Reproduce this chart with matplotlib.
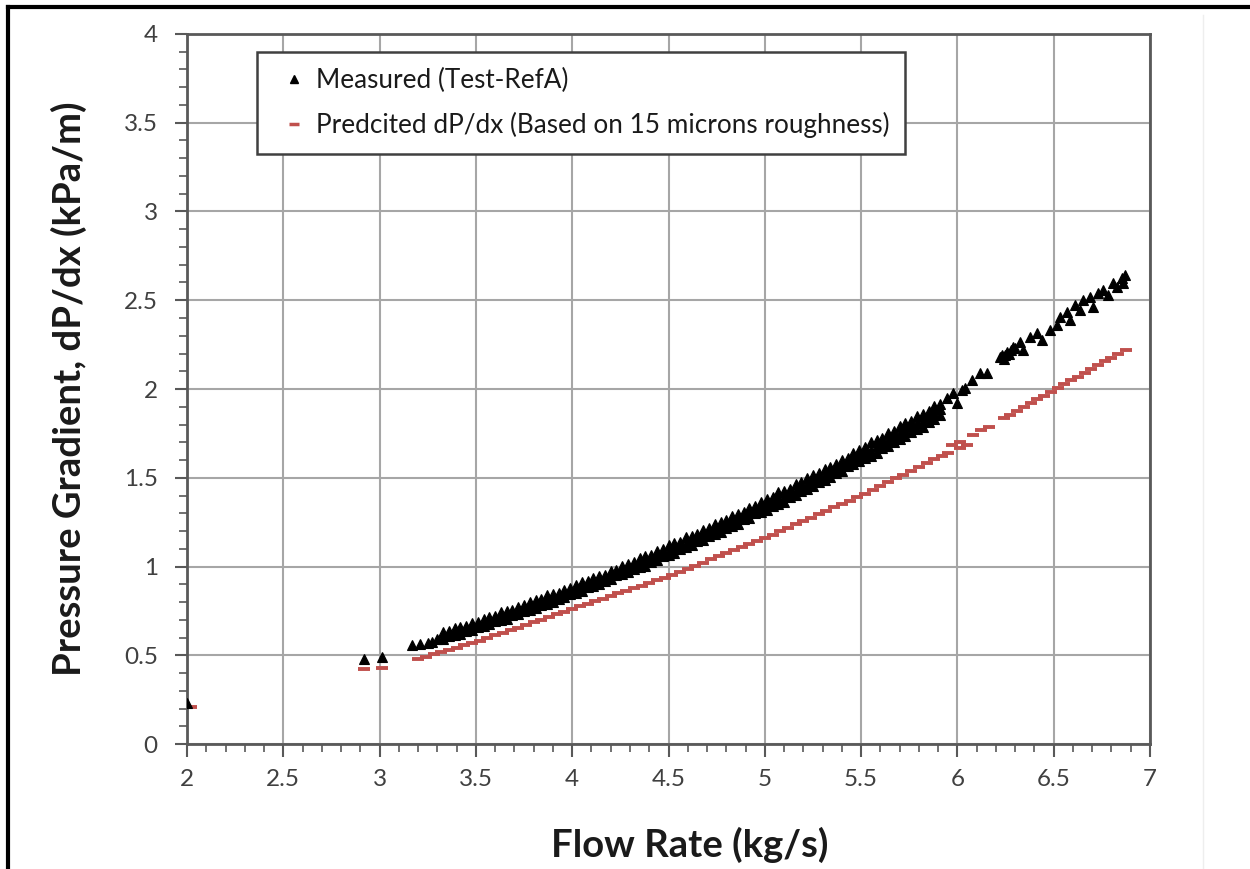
import matplotlib
matplotlib.use("Agg")
import matplotlib.pyplot as plt
from matplotlib.lines import Line2D
from matplotlib.ticker import MultipleLocator

plt.rcParams['font.family'] = ['Lato', 'DejaVu Sans']

# ---------------- data ----------------
# Measured (Test-RefA): isolated low-flow points
meas_low_x = [2.00, 2.92, 3.01, 3.17, 3.21, 3.25, 3.27, 3.30]
meas_low_y = [0.23, 0.48, 0.49, 0.56, 0.565, 0.57, 0.575, 0.59]

# Measured: dense band (upper edge, centre and lower edge of the scatter)
meas_band_x = [3.33, 3.36, 3.39, 3.42, 3.45, 3.48, 3.51, 3.54, 3.57, 3.60,
               3.63, 3.66, 3.69, 3.72, 3.75, 3.78, 3.81, 3.84, 3.87, 3.90,
               3.93, 3.96, 3.99, 4.02, 4.05, 4.08, 4.11, 4.14, 4.17, 4.20,
               4.23, 4.26, 4.29, 4.32, 4.35, 4.38, 4.41, 4.44, 4.47, 4.50,
               4.53, 4.56, 4.59, 4.62, 4.65, 4.68, 4.71, 4.74, 4.77, 4.80,
               4.83, 4.86, 4.89, 4.92, 4.95, 4.98, 5.01, 5.04, 5.07, 5.10,
               5.13, 5.16, 5.19, 5.22, 5.25, 5.28, 5.31, 5.34, 5.37, 5.40,
               5.43, 5.46, 5.49, 5.52, 5.55, 5.58, 5.61, 5.64, 5.67, 5.70,
               5.73, 5.76, 5.79, 5.82, 5.85, 5.88, 5.91]
meas_band_hi = [0.632, 0.636, 0.655, 0.660, 0.665, 0.683, 0.690, 0.707, 0.717, 0.722,
                0.742, 0.747, 0.754, 0.774, 0.782, 0.801, 0.811, 0.816, 0.837, 0.844,
                0.851, 0.870, 0.879, 0.898, 0.910, 0.916, 0.938, 0.945, 0.953, 0.973,
                0.983, 1.003, 1.016, 1.027, 1.049, 1.057, 1.066, 1.087, 1.098, 1.119,
                1.132, 1.140, 1.164, 1.172, 1.182, 1.204, 1.215, 1.238, 1.252, 1.260,
                1.285, 1.294, 1.305, 1.328, 1.340, 1.363, 1.382, 1.391, 1.417, 1.427,
                1.439, 1.463, 1.475, 1.499, 1.515, 1.526, 1.552, 1.563, 1.576, 1.600,
                1.614, 1.639, 1.655, 1.672, 1.699, 1.712, 1.725, 1.750, 1.765, 1.791,
                1.808, 1.820, 1.848, 1.861, 1.875, 1.902, 1.917]
meas_band_mid = [0.610, 0.621, 0.631, 0.642, 0.652, 0.663, 0.674, 0.684, 0.695, 0.707,
                 0.718, 0.729, 0.741, 0.752, 0.764, 0.776, 0.787, 0.799, 0.811, 0.824,
                 0.836, 0.848, 0.861, 0.873, 0.886, 0.899, 0.912, 0.925, 0.938, 0.951,
                 0.965, 0.978, 0.992, 1.006, 1.019, 1.033, 1.047, 1.061, 1.076, 1.090,
                 1.104, 1.119, 1.134, 1.148, 1.163, 1.178, 1.193, 1.209, 1.224, 1.239,
                 1.255, 1.270, 1.286, 1.302, 1.318, 1.334, 1.350, 1.366, 1.383, 1.399,
                 1.416, 1.433, 1.449, 1.466, 1.483, 1.500, 1.518, 1.535, 1.553, 1.570,
                 1.588, 1.606, 1.623, 1.641, 1.659, 1.678, 1.696, 1.714, 1.733, 1.752,
                 1.770, 1.789, 1.808, 1.827, 1.846, 1.866, 1.885]
meas_band_lo = [0.589, 0.607, 0.613, 0.619, 0.637, 0.643, 0.661, 0.665, 0.674, 0.693,
                0.700, 0.706, 0.726, 0.730, 0.749, 0.755, 0.764, 0.783, 0.791, 0.799,
                0.819, 0.826, 0.846, 0.852, 0.863, 0.883, 0.892, 0.900, 0.921, 0.929,
                0.950, 0.957, 0.969, 0.986, 0.995, 1.004, 1.026, 1.035, 1.057, 1.065,
                1.077, 1.099, 1.110, 1.119, 1.142, 1.152, 1.174, 1.184, 1.197, 1.219,
                1.231, 1.241, 1.265, 1.276, 1.299, 1.309, 1.319, 1.342, 1.355, 1.366,
                1.391, 1.403, 1.426, 1.437, 1.452, 1.476, 1.490, 1.502, 1.528, 1.540,
                1.565, 1.577, 1.592, 1.611, 1.625, 1.639, 1.665, 1.678, 1.704, 1.716,
                1.733, 1.759, 1.774, 1.788, 1.815, 1.830, 1.856]

# Measured: sparse high-flow points
meas_high_x = [5.944, 5.979, 5.996, 6.022, 6.039, 6.074, 6.117, 6.155,
               6.22, 6.23, 6.24, 6.247, 6.26, 6.27, 6.28, 6.291, 6.30,
               6.325, 6.342, 6.377, 6.412, 6.438, 6.481, 6.515, 6.533,
               6.567, 6.585, 6.611, 6.636, 6.654, 6.688, 6.706, 6.732,
               6.758, 6.784, 6.810, 6.828, 6.853, 6.862, 6.870]
meas_high_y = [1.948, 1.975, 1.919, 1.994, 2.004, 2.051, 2.092, 2.092,
               2.18, 2.19, 2.17, 2.192, 2.21, 2.20, 2.22, 2.238, 2.23,
               2.267, 2.220, 2.295, 2.314, 2.276, 2.332, 2.361, 2.408,
               2.436, 2.389, 2.473, 2.445, 2.501, 2.520, 2.464, 2.539,
               2.558, 2.530, 2.595, 2.576, 2.624, 2.595, 2.642]

# Predicted dP/dx (15 micron roughness)
pred_x = [2.02, 2.92, 3.01,
          3.20, 3.24, 3.28, 3.32, 3.36, 3.40, 3.44, 3.48, 3.52, 3.56, 3.60,
          3.64, 3.68, 3.72, 3.76, 3.80, 3.84, 3.88, 3.92, 3.96, 4.00, 4.04,
          4.08, 4.12, 4.16, 4.20, 4.24, 4.28, 4.32, 4.36, 4.40, 4.44, 4.48,
          4.52, 4.56, 4.60, 4.64, 4.68, 4.72, 4.76, 4.80, 4.84, 4.88, 4.92,
          4.96, 5.00, 5.04, 5.08, 5.12, 5.16, 5.20, 5.24, 5.28, 5.32, 5.36,
          5.40, 5.44, 5.48, 5.52, 5.56, 5.60, 5.64, 5.68, 5.72, 5.76, 5.80,
          5.84, 5.88, 5.92, 5.95,
          5.970, 6.013, 6.013, 6.048, 6.083, 6.125, 6.165,
          6.24, 6.275, 6.31, 6.345, 6.38, 6.415, 6.45, 6.485, 6.52, 6.555,
          6.59, 6.625, 6.66, 6.695, 6.73, 6.765, 6.80, 6.835, 6.875]
pred_y = [0.21, 0.42, 0.43,
          0.480, 0.493, 0.505, 0.518, 0.531, 0.543, 0.556, 0.568, 0.582, 0.597, 0.612,
          0.627, 0.641, 0.656, 0.671, 0.686, 0.701, 0.716, 0.730, 0.745, 0.760, 0.775,
          0.790, 0.804, 0.819, 0.834, 0.849, 0.864, 0.878, 0.893, 0.908, 0.923, 0.938,
          0.954, 0.971, 0.988, 1.005, 1.022, 1.040, 1.057, 1.074, 1.091, 1.108, 1.126,
          1.143, 1.160, 1.179, 1.198, 1.218, 1.237, 1.256, 1.275, 1.294, 1.314, 1.333,
          1.352, 1.371, 1.390, 1.411, 1.432, 1.453, 1.475, 1.496, 1.517, 1.539, 1.560,
          1.581, 1.603, 1.624, 1.640,
          1.685, 1.703, 1.665, 1.685, 1.741, 1.769, 1.788,
          1.835, 1.856, 1.877, 1.899, 1.920, 1.941, 1.963, 1.984, 2.005, 2.027,
          2.048, 2.070, 2.091, 2.112, 2.134, 2.155, 2.176, 2.198, 2.222]

x_ticks = [2, 2.5, 3, 3.5, 4, 4.5, 5, 5.5, 6, 6.5, 7]
y_ticks = [0, 0.5, 1, 1.5, 2, 2.5, 3, 3.5, 4]
x_ticklabels = ['2', '2.5', '3', '3.5', '4', '4.5', '5', '5.5', '6', '6.5', '7']
y_ticklabels = ['0', '0.5', '1', '1.5', '2', '2.5', '3', '3.5', '4']

label_meas = 'Measured (Test-RefA)'
label_pred = 'Predcited dP/dx (Based on 15 microns roughness)'

# ---------------- figure ----------------
fig = plt.figure(figsize=(12.5, 8.69), dpi=100)
ax = fig.add_axes([0.1496, 0.1438, 0.7704, 0.8171])

red = '#c0504d'
tri = dict(linestyle='none', marker='^', color='black', markersize=7,
           markeredgewidth=0.8)

ax.plot(pred_x, pred_y, linestyle='none', marker='_', color=red,
        markersize=9, markeredgewidth=2.8, zorder=3)
ax.plot(meas_low_x, meas_low_y, zorder=4, **tri)
ax.plot(meas_band_x, meas_band_hi, zorder=4, **tri)
ax.plot(meas_band_x, meas_band_mid, zorder=4, **tri)
ax.plot(meas_band_x, meas_band_lo, zorder=4, **tri)
ax.plot(meas_high_x, meas_high_y, zorder=4, **tri)

ax.set_xlim(2, 7)
ax.set_ylim(0, 4)
ax.set_xticks(x_ticks)
ax.set_xticklabels(x_ticklabels)
ax.set_yticks(y_ticks)
ax.set_yticklabels(y_ticklabels)
ax.xaxis.set_minor_locator(MultipleLocator(0.1))
ax.yaxis.set_minor_locator(MultipleLocator(0.1))

spine_c = '#595959'
for s in ax.spines.values():
    s.set_color(spine_c)
    s.set_linewidth(2)

ax.grid(True, which='major', color='#a6a6a6', linewidth=1.5, zorder=0)
ax.set_axisbelow(True)

ax.tick_params(which='major', direction='out', length=9, width=1.5,
               color=spine_c, labelsize=17.5, labelcolor='#404040', pad=9)
ax.tick_params(which='minor', direction='out', length=6, width=1.2,
               color=spine_c)
ax.tick_params(axis='y', pad=12)

ax.set_xlabel('Flow Rate (kg/s)', fontsize=27.5, fontweight='bold',
              color='#1a1a1a')
ax.xaxis.set_label_coords(0.522, -0.116)
ax.set_ylabel('Pressure Gradient, dP/dx (kPa/m)', fontsize=27.5,
              fontweight='bold', color='#1a1a1a')
ax.yaxis.set_label_coords(-0.104, 0.501)

handles = [Line2D([], [], linestyle='none', marker='^', color='black',
                  markersize=6),
           Line2D([], [], linestyle='none', marker='_', color=red,
                  markersize=7, markeredgewidth=2.5)]
leg = ax.legend(handles, [label_meas, label_pred], loc='upper left',
                bbox_to_anchor=(0.0727, 0.9746), fontsize=18.8,
                frameon=True, fancybox=False, framealpha=1,
                edgecolor='#404040', handlelength=1.6, handletextpad=0.05,
                labelspacing=0.75, borderpad=0.6, borderaxespad=0)
leg.get_frame().set_linewidth(1.8)
for t in leg.get_texts():
    t.set_color('#1a1a1a')

# outer frame of the picture
fig.add_artist(Line2D([8 / 1250, 1.0], [1 - 7 / 869, 1 - 7 / 869],
                      transform=fig.transFigure, color='black', linewidth=3))
fig.add_artist(Line2D([8 / 1250, 8 / 1250], [0.0, 1 - 7 / 869],
                      transform=fig.transFigure, color='black', linewidth=3))
fig.add_artist(Line2D([1203 / 1250, 1203 / 1250], [0.0, 1 - 15 / 869],
                      transform=fig.transFigure, color='#eeeeee', linewidth=1))

fig.savefig('out.png', dpi=100)
